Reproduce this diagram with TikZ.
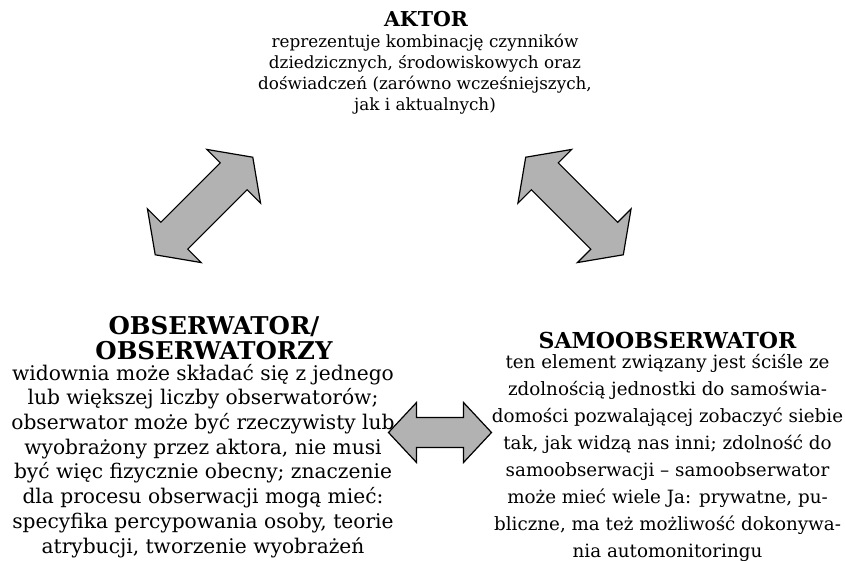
\documentclass[tikz,border=0pt]{standalone}
\usepackage{fontspec}
\setmainfont{DejaVu Serif}
\usetikzlibrary{positioning}
\definecolor{arrowgray}{RGB}{178,178,178}

\begin{document}
\begin{tikzpicture}[x=1pt,y=-1pt,
    title text/.style={font=\bfseries,align=center,inner sep=0pt},
    body text/.style={align=center,inner sep=0pt},
    block arrow/.style={draw=black,fill=arrowgray,line width=1.2pt,line join=miter}]
    \useasboundingbox (0,0) rectangle (845,560);
    % top
    \node[title text,font=\bfseries\fontsize{20.5}{24}\selectfont,anchor=base] (aktor) at (426,26) {AKTOR};
    \node[body text,font=\fontsize{16.8}{21}\selectfont,anchor=base] (aktortxt) at (425,110.5) {reprezentuje kombinację czynników\\
      dziedzicznych, środowiskowych oraz\\
      doświadczeń (zarówno wcześniejszych,\\
      jak i aktualnych)};
    % left
    \node[title text,font=\bfseries\fontsize{24.5}{25}\selectfont,anchor=base] (obs) at (214,359.5) {OBSERWATOR/\\OBSERWATORZY};
    \node[body text,font=\fontsize{20.2}{24.7}\selectfont,anchor=base] (obstxt) at (203,553) {widownia może składać się z jednego\\
      lub większej liczby obserwatorów;\\
      obserwator może być rzeczywisty lub\\
      wyobrażony przez aktora, nie musi\\
      być więc fizycznie obecny; znaczenie\\
      dla procesu obserwacji mogą mieć:\\
      specyfika percypowania osoby, teorie\\
      atrybucji, tworzenie wyobrażeń};
    % right
    \node[title text,font=\bfseries\fontsize{22}{25}\selectfont,anchor=base] (samo) at (667.5,348.5) {SAMOOBSERWATOR};
    \node[body text,font=\fontsize{18.3}{27}\selectfont,anchor=base] (samotxt) at (667.5,557) {ten element związany jest ściśle ze\\
      zdolnością jednostki do samoświa-\\
      domości pozwalającej zobaczyć siebie\\
      tak, jak widzą nas inni; zdolność do\\
      samoobserwacji – samoobserwator\\
      może mieć wiele Ja: prywatne, pu-\\
      bliczne, ma też możliwość dokonywa-\\
      nia automonitoringu};
    % arrows
    \draw[block arrow,shift={(204,206)},rotate=45] (-69,0) -- (-42,38) -- (-42,19) -- (42,19) -- (42,38) -- (69,0)
      -- (42,-38) -- (42,-19) -- (-42,-19) -- (-42,-38) -- cycle;
    \draw[block arrow,shift={(574.5,206)},rotate=-45] (-69,0) -- (-42,38) -- (-42,19) -- (42,19) -- (42,38) -- (69,0)
      -- (42,-38) -- (42,-19) -- (-42,-19) -- (-42,-38) -- cycle;
    \draw[block arrow,shift={(440,432.5)}] (-51.5,0) -- (-23.5,30) -- (-23.5,15) -- (23.5,15) -- (23.5,30) -- (51.5,0)
      -- (23.5,-30) -- (23.5,-15) -- (-23.5,-15) -- (-23.5,-30) -- cycle;
\end{tikzpicture}
\end{document}
